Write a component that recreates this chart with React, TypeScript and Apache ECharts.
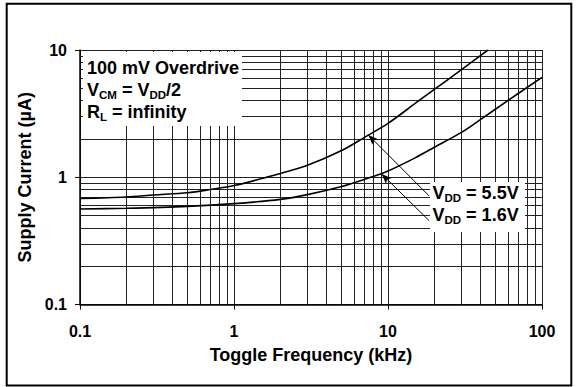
import React, { useEffect, useRef } from "react";
import * as echarts from "echarts";

// ---- data ----
const xTickLabels = ["0.1", "1", "10", "100"];
const yTickLabels = ["0.1", "1", "10"];

const freqHigh = [0.1, 0.2, 0.3, 0.5, 0.7, 1, 2, 3, 5, 7, 10, 15, 20, 30, 44.6];
const currentHigh = [0.68, 0.70, 0.725, 0.755, 0.80, 0.86, 1.07, 1.24, 1.62, 2.05, 2.65, 3.8, 4.9, 7.0, 10];

const freqLow = [0.1, 0.2, 0.5, 1, 2, 3, 5, 7, 10, 15, 20, 30, 40, 60, 100];
const currentLow = [0.563, 0.57, 0.59, 0.62, 0.67, 0.73, 0.845, 0.96, 1.12, 1.42, 1.72, 2.25, 2.85, 4.0, 6.1];

const xMinorGrid = [0.2, 0.3, 0.4, 0.5, 0.6, 0.7, 0.8, 0.9, 2, 3, 4, 5, 6, 7, 8, 9, 20, 30, 40, 50, 60, 70, 80, 90];
const yMinorGrid = [0.2, 0.3, 0.4, 0.5, 0.6, 0.7, 0.8, 0.9, 2, 3, 4, 5, 6, 7, 8, 9];

const annotationLines = ["100 mV Overdrive", "V{sub|CM} = V{sub|DD}/2", "R{sub|L} = infinity"];
const seriesLabels = ["V{sub|DD} = 5.5V", "V{sub|DD} = 1.6V"];
const arrowTails = [[18.5, 0.713], [18.5, 0.456]];
const arrowTips = [[7.45, 2.15], [9.1, 1.06]];

const FONT = "'Liberation Sans', Arial, Helvetica, sans-serif";

function pairs(xs: number[], ys: number[]) {
  return xs.map((x, i) => [x, ys[i]]);
}

function findLabel(labels: string[], v: number) {
  const l = labels.find((s) => Math.abs(parseFloat(s) - v) < 1e-6 * Math.max(1, v));
  return l ?? "";
}

export default function App() {
  const ref = useRef<HTMLDivElement>(null);

  useEffect(() => {
    const chart = echarts.init(ref.current!, null, { renderer: "svg" });
    const gridStyle = { color: "#222", width: 1 };
    const richSub = {
      sub: {
        fontSize: 11.5,
        fontWeight: "bold",
        fontFamily: FONT,
        color: "#000",
        verticalAlign: "bottom",
        lineHeight: 22,
      },
    };
    const textBase = {
      fontSize: 18,
      fontWeight: "bold",
      fontFamily: FONT,
      fill: "#000",
      lineHeight: 22,
      rich: richSub,
    };

    chart.setOption({
      animation: false,
      backgroundColor: "#fff",
      grid: { left: 80, right: 34, top: 50, bottom: 82.5 },
      xAxis: {
        type: "log",
        logBase: 10,
        min: 0.1,
        max: 100,
        name: "Toggle Frequency (kHz)",
        nameLocation: "middle",
        nameGap: 41.5,
        nameTextStyle: { fontSize: 18, fontWeight: "bold", fontFamily: FONT, color: "#000" },
        axisLine: { show: true, lineStyle: { color: "#000", width: 1.5 } },
        axisTick: { show: true, length: 5, lineStyle: { color: "#000", width: 1 } },
        axisLabel: {
          margin: 19,
          fontSize: 16,
          fontWeight: "bold",
          fontFamily: FONT,
          color: "#000",
          formatter: (v: number) => findLabel(xTickLabels, v),
        },
        splitLine: { show: true, lineStyle: gridStyle },
      },
      yAxis: {
        type: "log",
        logBase: 10,
        min: 0.1,
        max: 10,
        name: "Supply Current (µA)",
        nameLocation: "middle",
        nameGap: 40,
        nameTextStyle: { fontSize: 18, fontWeight: "bold", fontFamily: FONT, color: "#000" },
        axisLine: { show: true, lineStyle: { color: "#000", width: 1.5 } },
        axisTick: { show: true, length: 5, lineStyle: { color: "#000", width: 1 } },
        axisLabel: {
          margin: 13,
          fontSize: 16,
          fontWeight: "bold",
          fontFamily: FONT,
          color: "#000",
          formatter: (v: number) => findLabel(yTickLabels, v),
        },
        splitLine: { show: true, lineStyle: gridStyle },
      },
      series: [
        {
          name: "minor-grid",
          type: "line",
          data: [],
          z: 1,
          silent: true,
          markLine: {
            z: 1,
            silent: true,
            symbol: ["none", "none"],
            label: { show: false },
            lineStyle: { color: "#222", width: 1, type: "solid" },
            data: [
              ...xMinorGrid.map((v) => ({ xAxis: v })),
              ...yMinorGrid.map((v) => ({ yAxis: v })),
            ],
          },
        },
        {
          name: "VDD = 5.5V",
          type: "line",
          z: 4,
          smooth: 0.3,
          showSymbol: false,
          symbol: "none",
          lineStyle: { color: "#000", width: 1.6 },
          data: pairs(freqHigh, currentHigh),
          markLine: {
            z: 5,
            silent: true,
            symbol: ["none", "arrow"],
            symbolSize: [6, 10],
            label: { show: false },
            lineStyle: { color: "#000", width: 1, type: "solid" },
            data: [[{ coord: arrowTails[0] }, { coord: arrowTips[0] }]],
          },
        },
        {
          name: "VDD = 1.6V",
          type: "line",
          z: 4,
          smooth: 0.3,
          showSymbol: false,
          symbol: "none",
          lineStyle: { color: "#000", width: 1.6 },
          data: pairs(freqLow, currentLow),
          markLine: {
            z: 5,
            silent: true,
            symbol: ["none", "arrow"],
            symbolSize: [6, 10],
            label: { show: false },
            lineStyle: { color: "#000", width: 1, type: "solid" },
            data: [[{ coord: arrowTails[1] }, { coord: arrowTips[1] }]],
          },
        },
      ],
      graphic: [
        {
          type: "rect",
          z: 2,
          silent: true,
          shape: { x: 83, y: 52, width: 159, height: 74 },
          style: { fill: "#fff" },
        },
        {
          type: "text",
          z: 3,
          silent: true,
          x: 87,
          y: 57,
          style: { ...textBase, text: annotationLines.join("\n"), verticalAlign: "top", align: "left" },
        },
        {
          type: "rect",
          z: 2,
          silent: true,
          shape: { x: 430, y: 182, width: 95, height: 50 },
          style: { fill: "#fff" },
        },
        {
          type: "text",
          z: 3,
          silent: true,
          x: 432.5,
          y: 181.5,
          style: { ...textBase, text: seriesLabels.join("\n"), verticalAlign: "top", align: "left" },
        },
        {
          type: "rect",
          z: 10,
          silent: true,
          shape: { x: 6.7, y: 3.7, width: 564.6, height: 381.8 },
          style: { fill: "none", stroke: "#000", lineWidth: 2 },
        },
      ],
    });

    return () => chart.dispose();
  }, []);

  return (
    <div
      ref={ref}
      style={{ position: "fixed", left: 0, top: 0, width: 576, height: 387 }}
    />
  );
}
